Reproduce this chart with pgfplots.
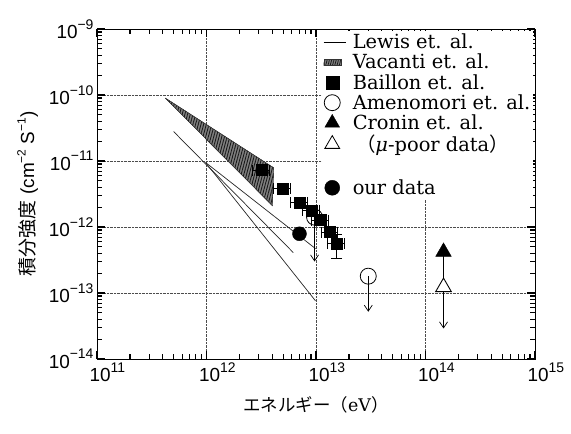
\documentclass[border=0pt]{standalone}
\usepackage{fontspec}
\setmainfont{DejaVu Serif}
\setsansfont{Liberation Sans}
\newfontfamily\jp{Noto Sans CJK JP}
\usepackage{pgfplots}
\pgfplotsset{compat=1.18}
\usetikzlibrary{arrows.meta,patterns.meta}
\pgfplotsset{shortline legend/.style={legend image code/.code={\draw[##1] (0cm,0cm) -- (0.8cm,0cm);}}}

\newcommand\tl[1]{10\raisebox{0.5em}{\fontsize{14}{14}\selectfont #1}}
\newcommand\sups[1]{\raisebox{0.45em}{\fontsize{12}{12}\selectfont #1}}

\begin{document}
\begin{tikzpicture}
\begin{axis}[
  width=438bp, height=330bp, scale only axis,
  xmode=log, ymode=log,
  xmin=1e11, xmax=1e15, ymin=1e-14, ymax=1e-9,
  axis line style={line width=0.9pt},
  grid=major,
  major grid style={densely dotted, black!70, line width=0.7pt},
  tick align=inside,
  major tick length=8bp, minor tick length=5bp,
  every tick/.style={black, line width=1.1pt},
  xtick={1e11,1e12,1e13,1e14,1e15},
  minor xtick={2e11,3e11,4e11,5e11,6e11,7e11,8e11,9e11,
    2e12,3e12,4e12,5e12,6e12,7e12,8e12,9e12,
    2e13,3e13,4e13,5e13,6e13,7e13,8e13,9e13,
    2e14,3e14,4e14,5e14,6e14,7e14,8e14,9e14},
  xticklabels={\tl{11},\tl{12},\tl{13},\tl{14},\tl{15}},
  ytick={1e-14,1e-13,1e-12,1e-11,1e-10,1e-9},
  minor ytick={2e-14,3e-14,4e-14,5e-14,6e-14,7e-14,8e-14,9e-14,
    2e-13,3e-13,4e-13,5e-13,6e-13,7e-13,8e-13,9e-13,
    2e-12,3e-12,4e-12,5e-12,6e-12,7e-12,8e-12,9e-12,
    2e-11,3e-11,4e-11,5e-11,6e-11,7e-11,8e-11,9e-11,
    2e-10,3e-10,4e-10,5e-10,6e-10,7e-10,8e-10,9e-10},
  yticklabels={\tl{−14},\tl{−13},\tl{−12},\tl{−11},\tl{−10},\tl{−9}},
  ticklabel style={font=\sffamily\fontsize{19}{19}\selectfont},
  xticklabel style={anchor=north west, xshift=-11bp},
  xlabel={{\jp エネルギー（}eV{\jp ）}},
  xlabel style={font=\fontsize{17.5}{17.5}\selectfont, yshift=-8bp},
  ylabel={{\jp 積分強度} {\sffamily (cm\sups{−2} S\sups{−1})}},
  ylabel style={font=\fontsize{19}{19}\selectfont, yshift=4bp},
  legend cell align=left,
  legend style={at={(0.514,0.995)}, anchor=north west, draw=none, fill=white,
    font=\fontsize{19.5}{19.5}\selectfont, inner sep=1pt, row sep=0pt, column sep=4bp},
]
% Vacanti et al. band
\addplot[forget plot, fill=black!50, draw=black!80,
  postaction={pattern={Lines[angle=75, distance=2.6pt, line width=0.9pt]}, pattern color=black!90}] coordinates {
  (4.2e11,9.0e-11) (4.1e12,7.9e-12) (4.0e12,2.1e-12) (4.2e11,9.0e-11)};
% Lewis et al. lines
\addplot[forget plot, black!85, line width=0.7pt] coordinates {(5.0e11,2.8e-11) (6.2e12,4.1e-13)};
\addplot[forget plot, black!85, line width=0.7pt] coordinates {(9.8e11,9.5e-12) (9.9e12,7.6e-14)};
\addplot[forget plot, black!85, line width=0.7pt] coordinates {(9.8e11,9.5e-12) (9.9e12,4.7e-13)};
% upper-limit arrows
\addplot[forget plot, black, line width=0.7pt, -{Straight Barb[length=6pt,width=8pt]}] coordinates {(9.7e12,1.41e-12) (9.7e12,3.0e-13)};
\addplot[forget plot, black, line width=0.7pt, -{Straight Barb[length=6pt,width=8pt]}] coordinates {(3.0e13,1.8e-13) (3.0e13,5.2e-14)};
\addplot[forget plot, black, line width=0.7pt, -{Straight Barb[length=6pt,width=8pt]}] coordinates {(1.46e14,4.2e-13) (1.46e14,2.9e-14)};
% Amenomori et al.
\addplot[forget plot, only marks, mark=o, mark size=8bp, mark options={draw=black, line width=0.8pt}]
  coordinates {(9.7e12,1.41e-12) (3.0e13,1.8e-13)};
% Baillon et al.
\addplot[forget plot, only marks, mark=square*, mark size=5.5bp, black,
  error bars/.cd, x dir=both, x explicit relative, y dir=both, y explicit relative]
  coordinates {
  (3.18e12,7.3e-12) +- (0.17,0.08)
  (4.94e12,3.82e-12) +- (0.17,0.08)
  (7.06e12,2.36e-12) +- (0.17,0.08)
  (9.1e12,1.79e-12) +- (0.17,0.08)
  (1.10e13,1.27e-12) +- (0.17,0.1)
  (1.33e13,8.4e-13) +- (0.17,0.15)
  (1.54e13,5.6e-13) +- (0.17,0.4)
};
% Cronin et al.
\addplot[forget plot, only marks, mark=triangle*, mark size=9bp, black] coordinates {(1.46e14,4.2e-13)};
\addplot[forget plot, only marks, mark=triangle*, mark size=9bp, mark options={fill=white, draw=black, line width=0.9pt}] coordinates {(1.46e14,1.23e-13)};
% our data
\addplot[forget plot, only marks, mark=*, mark size=7bp, black] coordinates {(7.06e12,7.9e-13)};

% legend
\addlegendimage{black, line width=0.7pt, shortline legend}
\addlegendentry{Lewis et. al.}
\addlegendimage{area legend, fill=black!50, draw=black!80, postaction={pattern={Lines[angle=75, distance=2.2pt, line width=0.8pt]}, pattern color=black!90}}
\addlegendentry{Vacanti et. al.}
\addlegendimage{only marks, mark=square*, mark size=6.5bp, black}
\addlegendentry{Baillon et. al.}
\addlegendimage{only marks, mark=o, mark size=8bp, black, line width=0.8pt}
\addlegendentry{Amenomori et. al.}
\addlegendimage{only marks, mark=triangle*, mark size=8.5bp, black}
\addlegendentry{Cronin et. al.}
\addlegendimage{only marks, mark=triangle, mark size=8.5bp, black, line width=0.8pt}
\addlegendentry{\,{\jp （}\textit{μ}-poor data{\jp ）}}
\addlegendimage{empty legend}
\addlegendentry{\rule{0pt}{17bp}}
\addlegendimage{only marks, mark=*, mark size=7.5bp, black}
\addlegendentry{our data}
\end{axis}
\pgfresetboundingbox
\path[use as bounding box] (-97bp,-75bp) rectangle (474bp,359bp);
\end{tikzpicture}
\end{document}
